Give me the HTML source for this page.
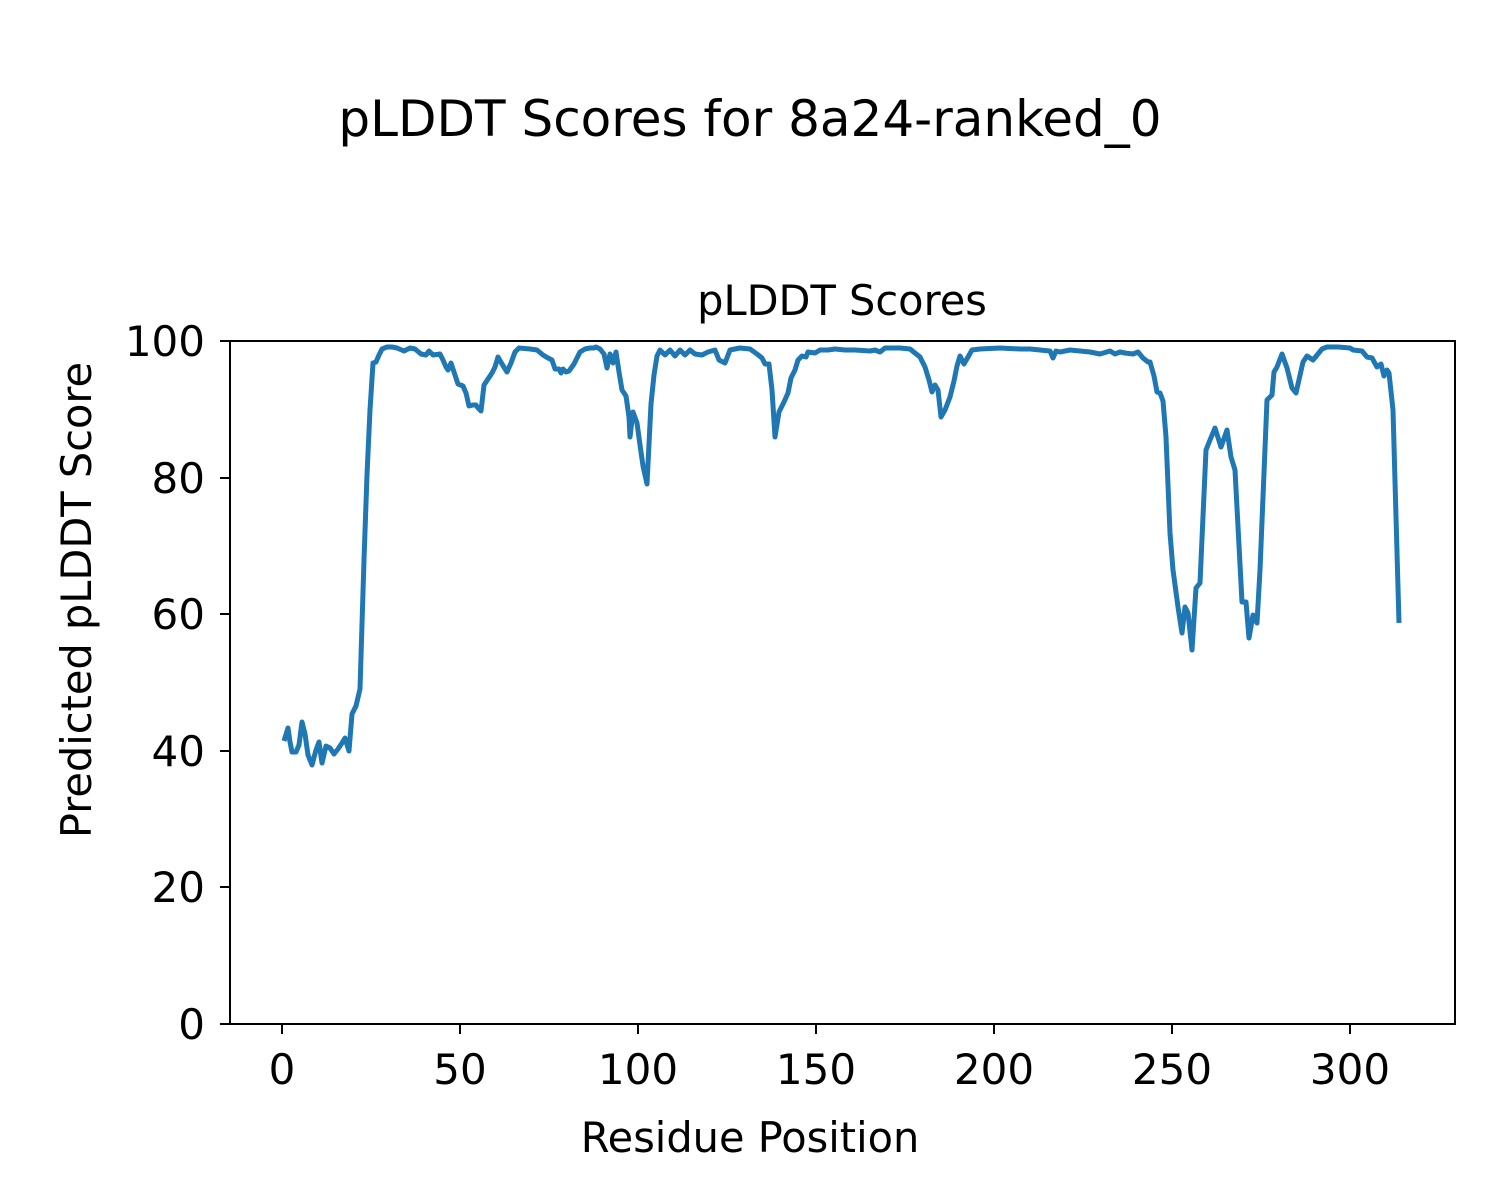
<!DOCTYPE html>
<html><head><style>body{margin:0;background:#fff}svg{display:block}text{font-family:"DejaVu Sans","Liberation Sans",sans-serif;fill:#000}</style></head>
<body>
<svg width="1500" height="1200" viewBox="0 0 1500 1200" xmlns="http://www.w3.org/2000/svg">
<rect width="1500" height="1200" fill="#fff"/>
<text x="750" y="136" font-size="50" text-anchor="middle">pLDDT Scores for 8a24-ranked_0</text>
<text x="842" y="315" font-size="41.5" text-anchor="middle">pLDDT Scores</text>
<polyline fill="none" stroke="#1f77b4" stroke-width="5" stroke-linejoin="round" points="284,741 288,728 290,742 292,752 296,752 299,745 302,722 305,734 308,755 312,765 316,750 319,742 322,763 326,746 330,748 334,754 338,749 342,743 345,738 349,751 352,714 356,706 360,689 364,560 367,475 370,410 373,363 376,362 379,355 382,349 387,347 392,347 397,348 404,351 410,348 415,349 421,354 426,355 429,351 433,355 440,354 443,360 446,367 448,370 451,363 454,372 458,384 463,386 466,393 469,406 473,405 476,405 478,408 481,411 484,385 488,379 492,373 495,367 498,357 502,364 507,372 511,363 515,352 519,348 530,349 537,350 543,355 548,358 552,360 555,369 559,369 561,373 563,369 566,372 569,371 574,364 580,352 585,349 590,348 594,348 596,347 600,349 604,354 607,368 610,354 613,363 616,352 619,372 622,390 626,396 629,417 630,437 633,412 637,423 640,445 643,466 647,484 651,404 654,375 657,356 660,350 665,355 670,350 675,356 680,350 685,355 690,350 695,354 702,355 708,352 715,350 719,360 725,363 730,350 740,348 750,349 757,354 762,358 765,364 769,364 772,390 775,437 779,412 784,402 788,393 791,378 795,370 798,360 802,356 806,357 808,352 815,353 820,350 828,350 835,349 845,350 855,350 870,351 875,350 880,352 885,348 900,348 910,349 920,357 925,367 929,380 932,392 935,385 938,390 941,417 945,410 950,397 954,381 957,366 960,356 964,364 968,357 972,350 980,349 1000,348 1020,349 1030,349 1040,350 1050,351 1053,358 1056,351 1060,352 1070,350 1080,351 1090,352 1100,354 1110,351 1115,354 1120,352 1125,353 1133,354 1138,352 1143,358 1148,362 1150,362 1154,376 1157,392 1160,393 1163,401 1166,437 1170,533 1173,570 1178,607 1182,633 1185,607 1188,613 1192,650 1196,588 1200,583 1206,450 1210,440 1215,428 1221,447 1227,430 1231,457 1235,470 1242,602 1246,602 1249,638 1253,615 1257,623 1260,570 1267,400 1272,395 1274,372 1277,367 1282,354 1287,368 1292,388 1296,393 1303,362 1307,356 1313,360 1322,349 1327,347 1338,347 1350,348 1353,350 1362,351 1367,357 1372,358 1377,367 1381,364 1384,376 1387,370 1389,373 1393,410 1399,623"/>
<rect x="230" y="341" width="1225" height="683" fill="none" stroke="#000" stroke-width="2"/>
<g stroke="#000" stroke-width="2">
<line x1="282" y1="1024" x2="282" y2="1034"/><line x1="460" y1="1024" x2="460" y2="1034"/><line x1="638" y1="1024" x2="638" y2="1034"/><line x1="816" y1="1024" x2="816" y2="1034"/><line x1="994" y1="1024" x2="994" y2="1034"/><line x1="1172" y1="1024" x2="1172" y2="1034"/><line x1="1350" y1="1024" x2="1350" y2="1034"/>
<line x1="220" y1="1024" x2="230" y2="1024"/><line x1="220" y1="887" x2="230" y2="887"/><line x1="220" y1="751" x2="230" y2="751"/><line x1="220" y1="614" x2="230" y2="614"/><line x1="220" y1="478" x2="230" y2="478"/><line x1="220" y1="341" x2="230" y2="341"/>
</g>
<g font-size="42" text-anchor="middle">
<text x="282" y="1084">0</text><text x="460" y="1084">50</text><text x="638" y="1084">100</text><text x="816" y="1084">150</text><text x="994" y="1084">200</text><text x="1172" y="1084">250</text><text x="1350" y="1084">300</text>
</g>
<g font-size="42" text-anchor="end">
<text x="205" y="1039">0</text><text x="205" y="902">20</text><text x="205" y="766">40</text><text x="205" y="629">60</text><text x="205" y="493">80</text><text x="205" y="356">100</text>
</g>
<text x="750" y="1152" font-size="41.5" text-anchor="middle">Residue Position</text>
<text transform="translate(91,600) rotate(-90)" font-size="41.5" text-anchor="middle">Predicted pLDDT Score</text>
</svg>
</body></html>
